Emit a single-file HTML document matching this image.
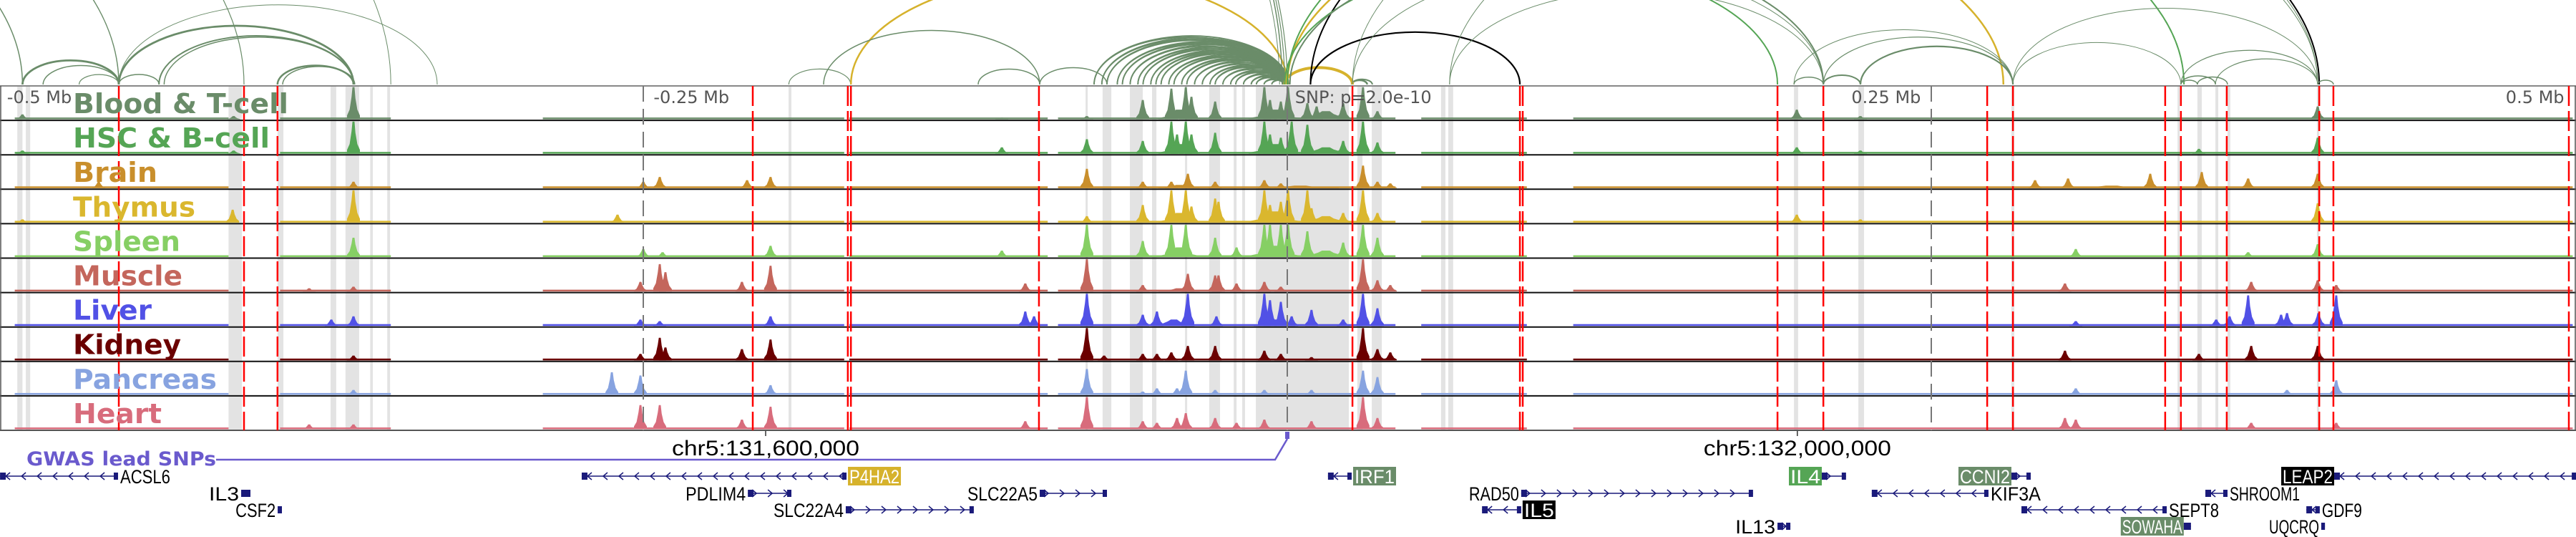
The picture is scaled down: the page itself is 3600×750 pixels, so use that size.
<!DOCTYPE html>
<html><head><meta charset="utf-8"><style>
html,body{margin:0;padding:0;background:#fff;}
svg{display:block;}
</style></head><body>
<svg id="fig" xmlns="http://www.w3.org/2000/svg" width="3600" height="750" viewBox="0 0 3600 750">
<defs><clipPath id="arcclip"><rect x="0" y="0" width="3600" height="118"/></clipPath></defs>
<g id="bands"></g>
<g id="arcs" clip-path="url(#arcclip)"></g>
<g id="tracks"></g>
<g id="vlines"></g>
<g id="labels"></g>
<g id="genes"></g>
</svg>
<script>
// ---- data (positions in kb relative to lead SNP) ----
const trackNames = ["Blood & T-cell","HSC & B-cell","Brain","Thymus","Spleen","Muscle","Liver","Kidney","Pancreas","Heart"];
const trackColors = ["#6a8c69","#55a555","#c98f2c","#dab72e","#86cf64","#c4665c","#5151e6","#6b0000","#87a3e0","#d86c7c"];
const labelWidths = [301,275,118,171,150,153,110,151,201,124];
const peaksBlood = [[-491,.15],[-409,.1],[-362.5,1.0],[-110.8,.05],[-77.8,.1],[-56.1,.6],[-45,.95],[-39.4,1.0],[-37.2,.7],[-28,.55],[-8.9,1.0],[-6.7,.6],[-2.5,.55],[0.3,1.0],[7.8,.5],[11.4,.4],[21.7,.5],[29.4,1.0],[35,.25],[197.8,.3],[222.5,.1],[400,.4],[-42,.3,8],[-5,.3,10],[15,.25,10]];
const peaksHSC = [[-491,.1],[-409,.1],[-362.5,1.0],[-110.8,.2],[-77.8,.45],[-56.1,.4],[-45,1.0],[-42.8,.6],[-39.4,1.0],[-37.2,.6],[-28,.65],[-8.9,1.0],[-6.7,.6],[-2.5,.5],[1.7,1.0],[7.8,.9],[21.7,.4],[29.4,1.0],[35,.35],[197.8,.2],[222.5,.1],[353.9,.15],[400,.5],[-42,.3,8],[-5,.3,10],[15,.2,10]];
const peaksBrain = [[-461.4,.2],[-362.5,.2],[-250,.2],[-243.6,.35],[-209.7,.25],[-200.6,.35],[-77.8,.6],[-56.1,.2],[-45,.2],[-38.6,.45],[-28,.2],[-8.9,.25],[-2.5,.15],[29.4,.7],[35,.2],[40,.15],[290.3,.25],[303.1,.3],[335,.45],[355,.5],[373,.3],[400,.45],[-42,.1,8],[5,.08,15],[320,.08,15]];
const peaksThymus = [[-491,.1],[-409.4,.4],[-362.5,1.0],[-260,.25],[-77.8,.2],[-56.1,.55],[-45,1.0],[-39.4,1.0],[-37.2,.5],[-28,.75],[-26.7,.65],[-8.9,1.0],[-6.7,.55],[-2.5,.65],[0.3,1.0],[7.8,1.0],[9.4,.45],[21.7,.3],[29.4,1.0],[35,.3],[197.8,.25],[222.5,.1],[400,.6],[-42,.3,8],[-5,.35,10],[15,.2,10]];
const peaksSpleen = [[-362.5,.6],[-250,.25],[-242.5,.15],[-200.6,.35],[-110.8,.2],[-77.8,1.0],[-56.1,.5],[-45,1.0],[-39.4,1.0],[-28,.6],[-19.7,.3],[-8.9,1.0],[-6.7,1.0],[-2.5,1.0],[0.3,1.0],[7.8,.8],[21.7,.45],[29.4,1.0],[35,.6],[306.1,.25],[373,.15],[400,.4],[-42,.3,8],[-5,.35,10],[15,.2,10]];
const peaksMuscle = [[-379.7,.1],[-362.5,.15],[-251.1,.3],[-243.6,.85],[-241.4,.6],[-211.7,.3],[-200.6,.8],[-101.7,.25],[-77.8,1.0],[-56.1,.2],[-38.6,.55],[-28,.5],[-26.7,.5],[-19.7,.25],[-8.9,.3],[-2.5,.15],[29.4,1.0],[35,.35],[40,.2],[301.9,.25],[374.2,.3],[400,.35],[407.2,.2],[-42,.1,8]];
const peaksLiver = [[-371.1,.2],[-362.5,.3],[-251.1,.2],[-243.6,.15],[-200.6,.3],[-101.7,.45],[-98.3,.3],[-77.8,1.0],[-56.1,.35],[-50.6,.45],[-38.6,1.0],[-27.5,.3],[-8.9,1.0],[-6.7,.8],[-2.5,.75],[1.7,.3],[9.4,.5],[21.7,.2],[29.4,1.0],[35,.55],[306.1,.15],[360.6,.2],[365.8,.3],[373,.95],[385.8,.35],[388.1,.4],[400.3,.4],[407.2,.95],[-44,.2,8],[-5,.2,8]];
const peaksKidney = [[-362.5,.15],[-251.1,.2],[-243.6,.7],[-241.4,.4],[-211.7,.35],[-200.6,.65],[-77.8,1.0],[-71.1,.15],[-56.1,.2],[-50.6,.2],[-45,.25],[-38.6,.45],[-28,.45],[-8.9,.3],[-2.5,.2],[9.4,.1],[29.4,1.0],[35,.35],[40,.25],[301.9,.3],[353.9,.2],[374.2,.45],[400,.45]];
const peaksPancreas = [[-362.5,.15],[-262.2,.7],[-251.1,.6],[-200.6,.3],[-77.8,.8],[-56.1,.1],[-50.6,.2],[-42.8,.2],[-39.4,.75],[-28,.15],[-8.9,.15],[9.4,.15],[29.4,.75],[35,.55],[306.1,.2],[388.1,.15],[407.2,.45]];
const peaksHeart = [[-379.7,.15],[-362.5,.15],[-251.1,.75],[-243.6,.75],[-211.7,.3],[-200.6,.7],[-101.7,.25],[-77.8,1.0],[-56.1,.25],[-50.6,.2],[-42.8,.35],[-39.4,.5],[-28,.35],[-19.7,.2],[-8.9,.3],[9.4,.25],[29.4,1.0],[35,.35],[301.9,.35],[306.1,.3],[374.2,.2],[407.2,.2]];
const coverage = [[-494,-411],[-391,-348],[-289,-172],[-170,-93],[-89,42],[52,93],[111,499]];
const redLines = [-453.6,-405,-392,-207.5,-170.6,-169.4,-96.4,25.3,90.3,91.4,190.3,208.1,271.7,281.7,340.8,346.9,364.7,400.6,406.1,497.5];
const grayBands = [[-493,-491],[-489.7,-488],[-411,-405.8],[-392,-389.7],[-371.4,-369.2],[-365.6,-360.3],[-356,-355],[-349.4,-348.3],[-193.6,-192.5],[-78.3,-77.5],[-71.7,-68.3],[-61.1,-56.1],[-52.5,-50.8],[-39.7,-38.9],[-30.3,-26.1],[-20.8,-19.7],[-17.5,-16.4],[-12.2,23.9],[27.2,29.2],[32.8,36.7],[59.7,61.4],[62.5,64.4],[196.7,198.3],[221.7,223.9],[281.1,282.2],[345.6,346.4],[353.3,355],[360.3,361.4],[365,366.1],[399.7,400.6]];
const axisTicks = [-250,0,250];
const axisLabels = [["-0.5 Mb",-497],["-0.25 Mb",-246],["SNP: p=2.0e-10",3],["0.25 Mb",219],["0.5 Mb",473]];
const arcList = [[-491,-453.6,0,2.8],[-483,-453.6,0,1.5],[-453.6,-362.5,0,2.8],[-453.6,-438,0,1.5],[-469,-453.6,0,1.2],[-438,-362.5,0,2],[-436,-362.5,0,1.5],[-392,-362.5,0,2.5],[-390,-362,0,1.5],[-453.6,-330,0,1],
 [-193.5,-169.5,0,1.2],[-169.4,0,3,2.5],[-96.1,-70,0,1.5],[-120,-96.1,0,1.5],[-180,-96.1,0,1.5],[25,31,0,2.5],[25,33,0,2],
 [-900,-491,0,1.5],[-900,-453.6,0,1.5],[-950,-405,0,1.2],[-1000,-348,0,1],[-1300,-2,0,1.5],[-1250,-1,0,1.2],[-1200,0,0,1.2],[-1150,-3,0,1],
 [-1,25.3,3,4],[0,278,3,2.5],[9,400.6,2,2],[9,90.3,2,2.2],[-1,190.3,1,2],[0,348.1,1,2],[1,208.1,0,2],[25.3,208,0,1],[25.3,400,0,1],[63,208,0,1],[63,400,0,1],
 [196.7,208.1,0,1.5],[208.1,222.5,0,2],[196.7,281.7,0,1],[208.1,281.7,0,1.2],[222.5,281.7,0,2.2],[281.7,400,0,1],[281.7,346.9,0,1],[346.9,353.3,0,1.5],[346.9,360.3,0,1.5],[353.3,365,0,1.5],[346.9,400,0,1.2],[360.3,400,0,1.2],[400,406.1,0,1.5]];
const fanAnchors = [-75,-72,-70,-66,-64,-61,-58,-56,-53,-51,-49,-46,-44,-41,-39,-36,-33,-30,-28,-25,-22,-20,-17,-14,-12,-9,-6];
const fanCenters = [-1.5,0.5];
const arcColors = ["#6a8c69","#55a555","#000000","#d6b22c"];
const genes = [
 ["ACSL6",-499.7,-453.9,-1,1,"right",null],["P4HA2",-273.9,-171.1,-1,1,"right","#d6b22c"],["IRF1",15.8,25,-1,1,"right","#6a8c69"],
 ["IL4",207.5,216.9,1,1,"left","#55a555"],["CCNI2",281.1,288.6,1,1,"left","#6a8c69"],["LEAP2",406.4,500.3,-1,1,"left","#000000"],
 ["IL3",-406.1,-402.5,1,2,"left",null],["PDLIM4",-209.4,-192.5,1,2,"left",null],["SLC22A5",-96.1,-70,1,2,"left",null],["RAD50",90.8,180.8,1,2,"left",null],
 ["KIF3A",226.9,272.2,-1,2,"right",null],["SHROOM1",356.4,365,-1,2,"right",null],
 ["CSF2",-391.9,-390.3,1,3,"left",null],["SLC22A4",-171.4,-121.7,1,3,"left",null],["IL5",75.6,90.8,-1,3,"right","#000000"],["SEPT8",285,341.4,-1,3,"right",null],["GDF9",395.6,400.8,-1,3,"right",null],
 ["IL13",190.3,195.3,1,4,"left",null],["SOWAHA",348,350.8,1,4,"left","#6a8c69"],["UQCRQ",401.4,402.8,1,4,"left",null]];
const chromTicks = [["chr5:131,600,000",-202.5],["chr5:132,000,000",198]];
const snpPos = 0;

// ---- scales ----
const NS="http://www.w3.org/2000/svg";
const X = kb => 1799 + kb*3.6;
const TOP=120, TH=48.1, NT=10, BOT=TOP+TH*NT;
function mk(tag, attrs, parent){const e=document.createElementNS(NS,tag);for(const k in attrs)e.setAttribute(k,attrs[k]);parent.appendChild(e);return e;}
const gBands=document.getElementById('bands'), gArcs=document.getElementById('arcs'), gTracks=document.getElementById('tracks'),
 gV=document.getElementById('vlines'), gL=document.getElementById('labels'), gG=document.getElementById('genes');

grayBands.forEach(b=>{
 const r=mk('rect',{x:X(b[0]),y:TOP,width:Math.max(3,X(b[1])-X(b[0])),height:BOT-TOP,fill:'#e3e3e3'},gBands);
 
 
});

function arc(a,b,col,w){
 const x1=X(a),x2=X(b),rx=(x2-x1)/2,ry=Math.max(6,rx*0.5);
 const p=mk('path',{d:`M${x1},118 A${rx},${ry} 0 0 1 ${x2},118`,fill:'none',stroke:col,'stroke-width':w},gArcs);
 
 
}
fanAnchors.forEach(a=>fanCenters.forEach(c=>arc(a,c,arcColors[0],1.8)));
arcList.forEach(a=>arc(a[0],a[1],arcColors[a[2]],a[3]));
mk('line',{x1:0,y1:119.5,x2:3600,y2:119.5,stroke:'#888','stroke-width':1.5},gArcs);

const allPeaks=[peaksBlood,peaksHSC,peaksBrain,peaksThymus,peaksSpleen,peaksMuscle,peaksLiver,peaksKidney,peaksPancreas,peaksHeart];
allPeaks.forEach((pk,i)=>{
 const top=TOP+i*TH, base=top+TH-1.5, col=trackColors[i];
 const g=mk('g',{},gTracks);
 
 
 coverage.forEach(c=>{const r=mk('rect',{x:X(c[0]),y:base-2.5,width:X(c[1])-X(c[0]),height:2.5,fill:col},g);
  
  });
 pk.forEach(p=>{
  const x=X(p[0]), h=Math.min(TH-3,p[1]*45), hw=p[2]?p[2]*3.6:9;
  const pts=[[x-hw,base],[x-hw,base-h*0.12],[x-hw*0.6,base-h*0.3],[x-hw*0.3,base-h*0.7],[x-hw*0.15,base-h],[x+hw*0.15,base-h],[x+hw*0.3,base-h*0.65],[x+hw*0.6,base-h*0.3],[x+hw,base-h*0.12],[x+hw,base]];
  const pl=mk('polygon',{points:pts.map(q=>q[0].toFixed(1)+','+q[1].toFixed(1)).join(' '),fill:col},g);
  
  
 });
});
for(let i=0;i<=NT;i++){const y=TOP+i*TH;mk('line',{x1:0,y1:y,x2:3600,y2:y,stroke:i==0?'#888':(i==NT?'#555':'#111'),'stroke-width':2},gV);}
mk('line',{x1:1,y1:TOP,x2:1,y2:BOT,stroke:'#555','stroke-width':1.5},gV);
mk('line',{x1:3599,y1:TOP,x2:3599,y2:BOT,stroke:'#555','stroke-width':1.5},gV);
axisTicks.forEach(t=>{const l=mk('line',{x1:X(t),y1:TOP,x2:X(t),y2:BOT,stroke:'#777','stroke-width':2,'stroke-dasharray':'22,10'},gV);
 
 });
redLines.forEach(t=>{const l=mk('line',{x1:X(t),y1:TOP,x2:X(t),y2:BOT,stroke:'#f00','stroke-width':2.5,'stroke-dasharray':'28,7'},gV);
 
 });
axisLabels.forEach(a=>{const t=mk('text',{x:X(a[1]),y:144,'font-family':'DejaVu Sans, sans-serif','font-size':24,fill:'#555'},gL);t.textContent=a[0];
 
 });
trackNames.forEach((n,i)=>{
 const t=mk('text',{x:102,y:TOP+i*TH+38,'font-family':'DejaVu Sans, sans-serif','font-weight':'bold','font-size':38,fill:trackColors[i],textLength:labelWidths[i],lengthAdjust:'spacingAndGlyphs'},gL);
 t.textContent=n;
 
 
});

chromTicks.forEach(c=>{
 mk('line',{x1:X(c[1]),y1:602,x2:X(c[1]),y2:609,stroke:'#333','stroke-width':1.5},gG);
 const t=mk('text',{x:X(c[1]),y:636,'text-anchor':'middle','font-family':'Liberation Sans, sans-serif','font-size':30,fill:'#000',textLength:262,lengthAdjust:'spacingAndGlyphs'},gG);
 t.textContent=c[0];
 
 
});
const gw=mk('text',{x:37,y:650,'font-family':'DejaVu Sans, sans-serif','font-weight':'bold','font-size':27,fill:'#6a5acd',textLength:265,lengthAdjust:'spacingAndGlyphs'},gG);
gw.textContent='GWAS lead SNPs';


const sx=X(snpPos);
mk('path',{d:`M302,642 L${sx-17},642 L${sx},613`,fill:'none',stroke:'#6a5acd','stroke-width':2.5},gG);
const sr=mk('rect',{x:sx-3,y:603,width:6,height:10,fill:'#6a5acd'},gG);



const rowY=[0,665,689,712,735];
genes.forEach(gn=>{
 const [name,s,e,dir,row,side,box]=gn, y=rowY[row], x1=X(s), x2=X(e);
 const g=mk('g',{},gG);
 
 
 mk('line',{x1:x1,y1:y,x2:x2,y2:y,stroke:'#1a1a7a','stroke-width':1.5},g);
 for(let x=x1+10;x<x2-6;x+=22){
  mk('path',{d:dir>0?`M${x-4},${y-5} L${x+2},${y} L${x-4},${y+5}`:`M${x+4},${y-5} L${x-2},${y} L${x+4},${y+5}`,fill:'none',stroke:'#1a1a7a','stroke-width':1.5},g);
 }
 mk('rect',{x:x1,y:y-5,width:Math.max(3,Math.min(8,x2-x1)),height:10,fill:'#1a1a7a'},g);
 mk('rect',{x:x2-Math.max(3,Math.min(6,x2-x1)),y:y-5,width:Math.max(3,Math.min(6,x2-x1)),height:10,fill:'#1a1a7a'},g);
 const tw=name.length*14;
 let tx=side==='left'?x1-3-tw:x2+3;
 if(box){mk('rect',{x:tx-1,y:y-13,width:tw+4,height:26,fill:box},g);}
 const t=mk('text',{x:tx+(box?1:0),y:y+10,'font-family':'Liberation Sans, sans-serif','font-size':27,fill:box?'#fff':'#000',textLength:tw,lengthAdjust:'spacingAndGlyphs'},g);
 t.textContent=name;
});
</script>
</body></html>
